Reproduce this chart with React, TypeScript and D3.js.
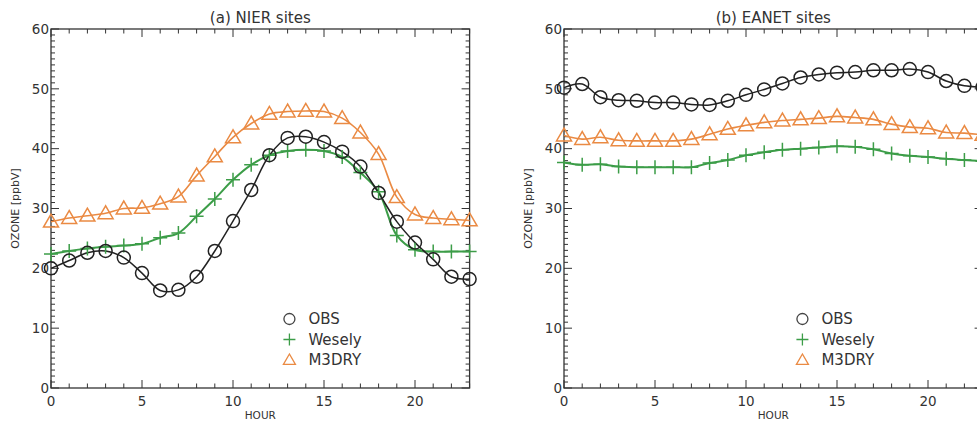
import React from "react";
import * as d3 from "d3";

// hours 0..23
const hours = d3.range(0, 24);

// (a) NIER sites
const nierObs = [20.0, 21.3, 22.6, 22.9, 21.8, 19.2, 16.3, 16.4, 18.6, 22.9, 27.9, 33.1,
  38.9, 41.8, 42.0, 41.1, 39.5, 37.0, 32.6, 27.8, 24.3, 21.5, 18.6, 18.2];
const nierWesely = [22.4, 22.9, 23.3, 23.6, 23.8, 24.1, 25.1, 25.9, 28.7, 31.6, 34.8, 37.3,
  38.9, 39.6, 39.8, 39.6, 38.6, 36.0, 32.8, 25.5, 23.1, 22.8, 22.8, 22.8];
const nierM3dry = [27.8, 28.4, 28.8, 29.2, 30.0, 30.1, 30.8, 32.0, 35.5, 38.7, 41.9, 44.2,
  45.8, 46.2, 46.3, 46.2, 45.1, 42.7, 39.1, 31.9, 29.0, 28.4, 28.2, 28.0];

// (b) EANET sites
const eanetObs = [50.2, 50.8, 48.6, 48.1, 48.0, 47.7, 47.7, 47.4, 47.3, 48.0, 49.0, 49.9,
  50.9, 51.9, 52.4, 52.7, 52.8, 53.1, 53.1, 53.3, 52.8, 51.3, 50.5, 50.3];
const eanetWesely = [37.7, 37.3, 37.4, 37.0, 36.9, 36.9, 36.9, 36.9, 37.6, 38.1, 38.9, 39.4,
  39.8, 40.0, 40.2, 40.4, 40.3, 39.9, 39.2, 38.8, 38.6, 38.3, 38.1, 37.9];
const eanetM3dry = [42.2, 41.6, 41.9, 41.4, 41.3, 41.3, 41.3, 41.6, 42.4, 43.3, 43.9, 44.4,
  44.7, 44.9, 45.1, 45.4, 45.2, 44.9, 44.1, 43.6, 43.4, 42.7, 42.6, 42.3];

const seriesNames = ["OBS", "Wesely", "M3DRY"];
const xTicks = [0, 5, 10, 15, 20];
const yTicks = [0, 10, 20, 30, 40, 50, 60];

const panels = [
  { title: "(a) NIER sites", left: 51, right: 469.6, obs: nierObs, wes: nierWesely, m3: nierM3dry },
  { title: "(b) EANET sites", left: 564, right: 982.6, obs: eanetObs, wes: eanetWesely, m3: eanetM3dry },
];

const W = 977;
const H = 421;
const TOP = 29;
const BOTTOM = 388;
const FONT = "DejaVu Sans, Verdana, sans-serif";
const BLACK = "#222";
const GREEN = "#3c9d48";
const ORANGE = "#ea8a43";
const AXIS = "#333";

const y = d3.scaleLinear().domain([0, 60]).range([BOTTOM, TOP]);

function tri(cx: number, cy: number, s: number) {
  return `M${cx},${cy - s}L${cx - s},${cy + s * 0.72}L${cx + s},${cy + s * 0.72}Z`;
}
function plus(cx: number, cy: number, s: number) {
  return `M${cx - s},${cy}H${cx + s}M${cx},${cy - s}V${cy + s}`;
}

const Panel = ({ p }: { p: (typeof panels)[number] }) => {
  const x = d3.scaleLinear().domain([0, 23]).range([p.left, p.right]);
  const line = d3
    .line<number>()
    .x((_, i) => x(hours[i]))
    .y((d) => y(d))
    .curve(d3.curveCatmullRom.alpha(0.5));
  const cx = (p.left + p.right) / 2;
  const minorY = d3.range(0, 61);
  const minorX = d3.range(0, 24);
  const legX = x(13.1);
  const legY = [319, 339.5, 360];
  return (
    <g>
      <text x={cx} y={23} textAnchor="middle" fontSize={15} fill="#333" fontFamily={FONT}>
        {p.title}
      </text>
      {/* frame */}
      <rect x={p.left} y={TOP} width={p.right - p.left} height={BOTTOM - TOP} fill="none" stroke={AXIS} strokeWidth={1.3} />
      {/* y ticks, left and right */}
      {minorY.map((v) => {
        const len = v % 10 === 0 ? 8 : 4;
        return (
          <g key={"y" + v} stroke={AXIS} strokeWidth={1}>
            <line x1={p.left} x2={p.left + len} y1={y(v)} y2={y(v)} />
            <line x1={p.right} x2={p.right - len} y1={y(v)} y2={y(v)} />
          </g>
        );
      })}
      {/* x ticks, bottom and top */}
      {minorX.map((h) => {
        const len = h % 5 === 0 ? 8 : 4.5;
        return (
          <g key={"x" + h} stroke={AXIS} strokeWidth={1}>
            <line x1={x(h)} x2={x(h)} y1={BOTTOM} y2={BOTTOM - len} />
            <line x1={x(h)} x2={x(h)} y1={TOP} y2={TOP + len} />
          </g>
        );
      })}
      {yTicks.map((v) => (
        <text key={"yl" + v} x={p.left - 2} y={y(v)} dy="0.35em" textAnchor="end" fontSize={13.5} fill="#333" fontFamily={FONT}>
          {v}
        </text>
      ))}
      {xTicks.map((h) => (
        <text key={"xl" + h} x={x(h)} y={406} textAnchor="middle" fontSize={13.5} fill="#333" fontFamily={FONT}>
          {h}
        </text>
      ))}
      <text x={cx} y={418.5} textAnchor="middle" fontSize={10.5} fill="#333" fontFamily={FONT}>
        HOUR
      </text>
      <text
        transform={`translate(${p.left - 32},${(TOP + BOTTOM) / 2}) rotate(-90)`}
        textAnchor="middle"
        fontSize={11}
        fill="#333"
        fontFamily={FONT}
      >
        OZONE [ppbV]
      </text>

      {/* lines */}
      <path d={line(p.wes) ?? ""} fill="none" stroke={GREEN} strokeWidth={2} />
      <path d={line(p.m3) ?? ""} fill="none" stroke={ORANGE} strokeWidth={1.6} />
      <path d={line(p.obs) ?? ""} fill="none" stroke={BLACK} strokeWidth={1.5} />

      {/* markers */}
      {p.wes.map((v, i) => (
        <path key={"w" + i} d={plus(x(hours[i]), y(v), 7)} stroke={GREEN} strokeWidth={1.5} fill="none" />
      ))}
      {p.m3.map((v, i) => (
        <path key={"m" + i} d={tri(x(hours[i]), y(v), 7.5)} stroke={ORANGE} strokeWidth={1.5} fill="none" />
      ))}
      {p.obs.map((v, i) => (
        <circle key={"o" + i} cx={x(hours[i])} cy={y(v)} r={6.5} stroke={BLACK} strokeWidth={1.5} fill="none" />
      ))}

      {/* legend */}
      <circle cx={legX} cy={legY[0]} r={5.5} fill="none" stroke="#444" strokeWidth={1.3} />
      <path d={plus(legX, legY[1], 6)} stroke={GREEN} strokeWidth={1.3} fill="none" />
      <path d={tri(legX, legY[2], 6)} stroke={ORANGE} strokeWidth={1.3} fill="none" />
      {seriesNames.map((n, i) => (
        <text key={n} x={legX + 19} y={legY[i]} dy="0.36em" fontSize={15} fill="#333" fontFamily={FONT}>
          {n}
        </text>
      ))}
    </g>
  );
};

export default function App() {
  return (
    <svg
      width={W}
      height={H}
      viewBox={`0 0 ${W} ${H}`}
      style={{ position: "absolute", left: 0, top: 0, background: "#fff" }}
    >
      <rect width={W} height={H} fill="#fff" />
      {panels.map((p) => (
        <Panel key={p.title} p={p} />
      ))}
    </svg>
  );
}
